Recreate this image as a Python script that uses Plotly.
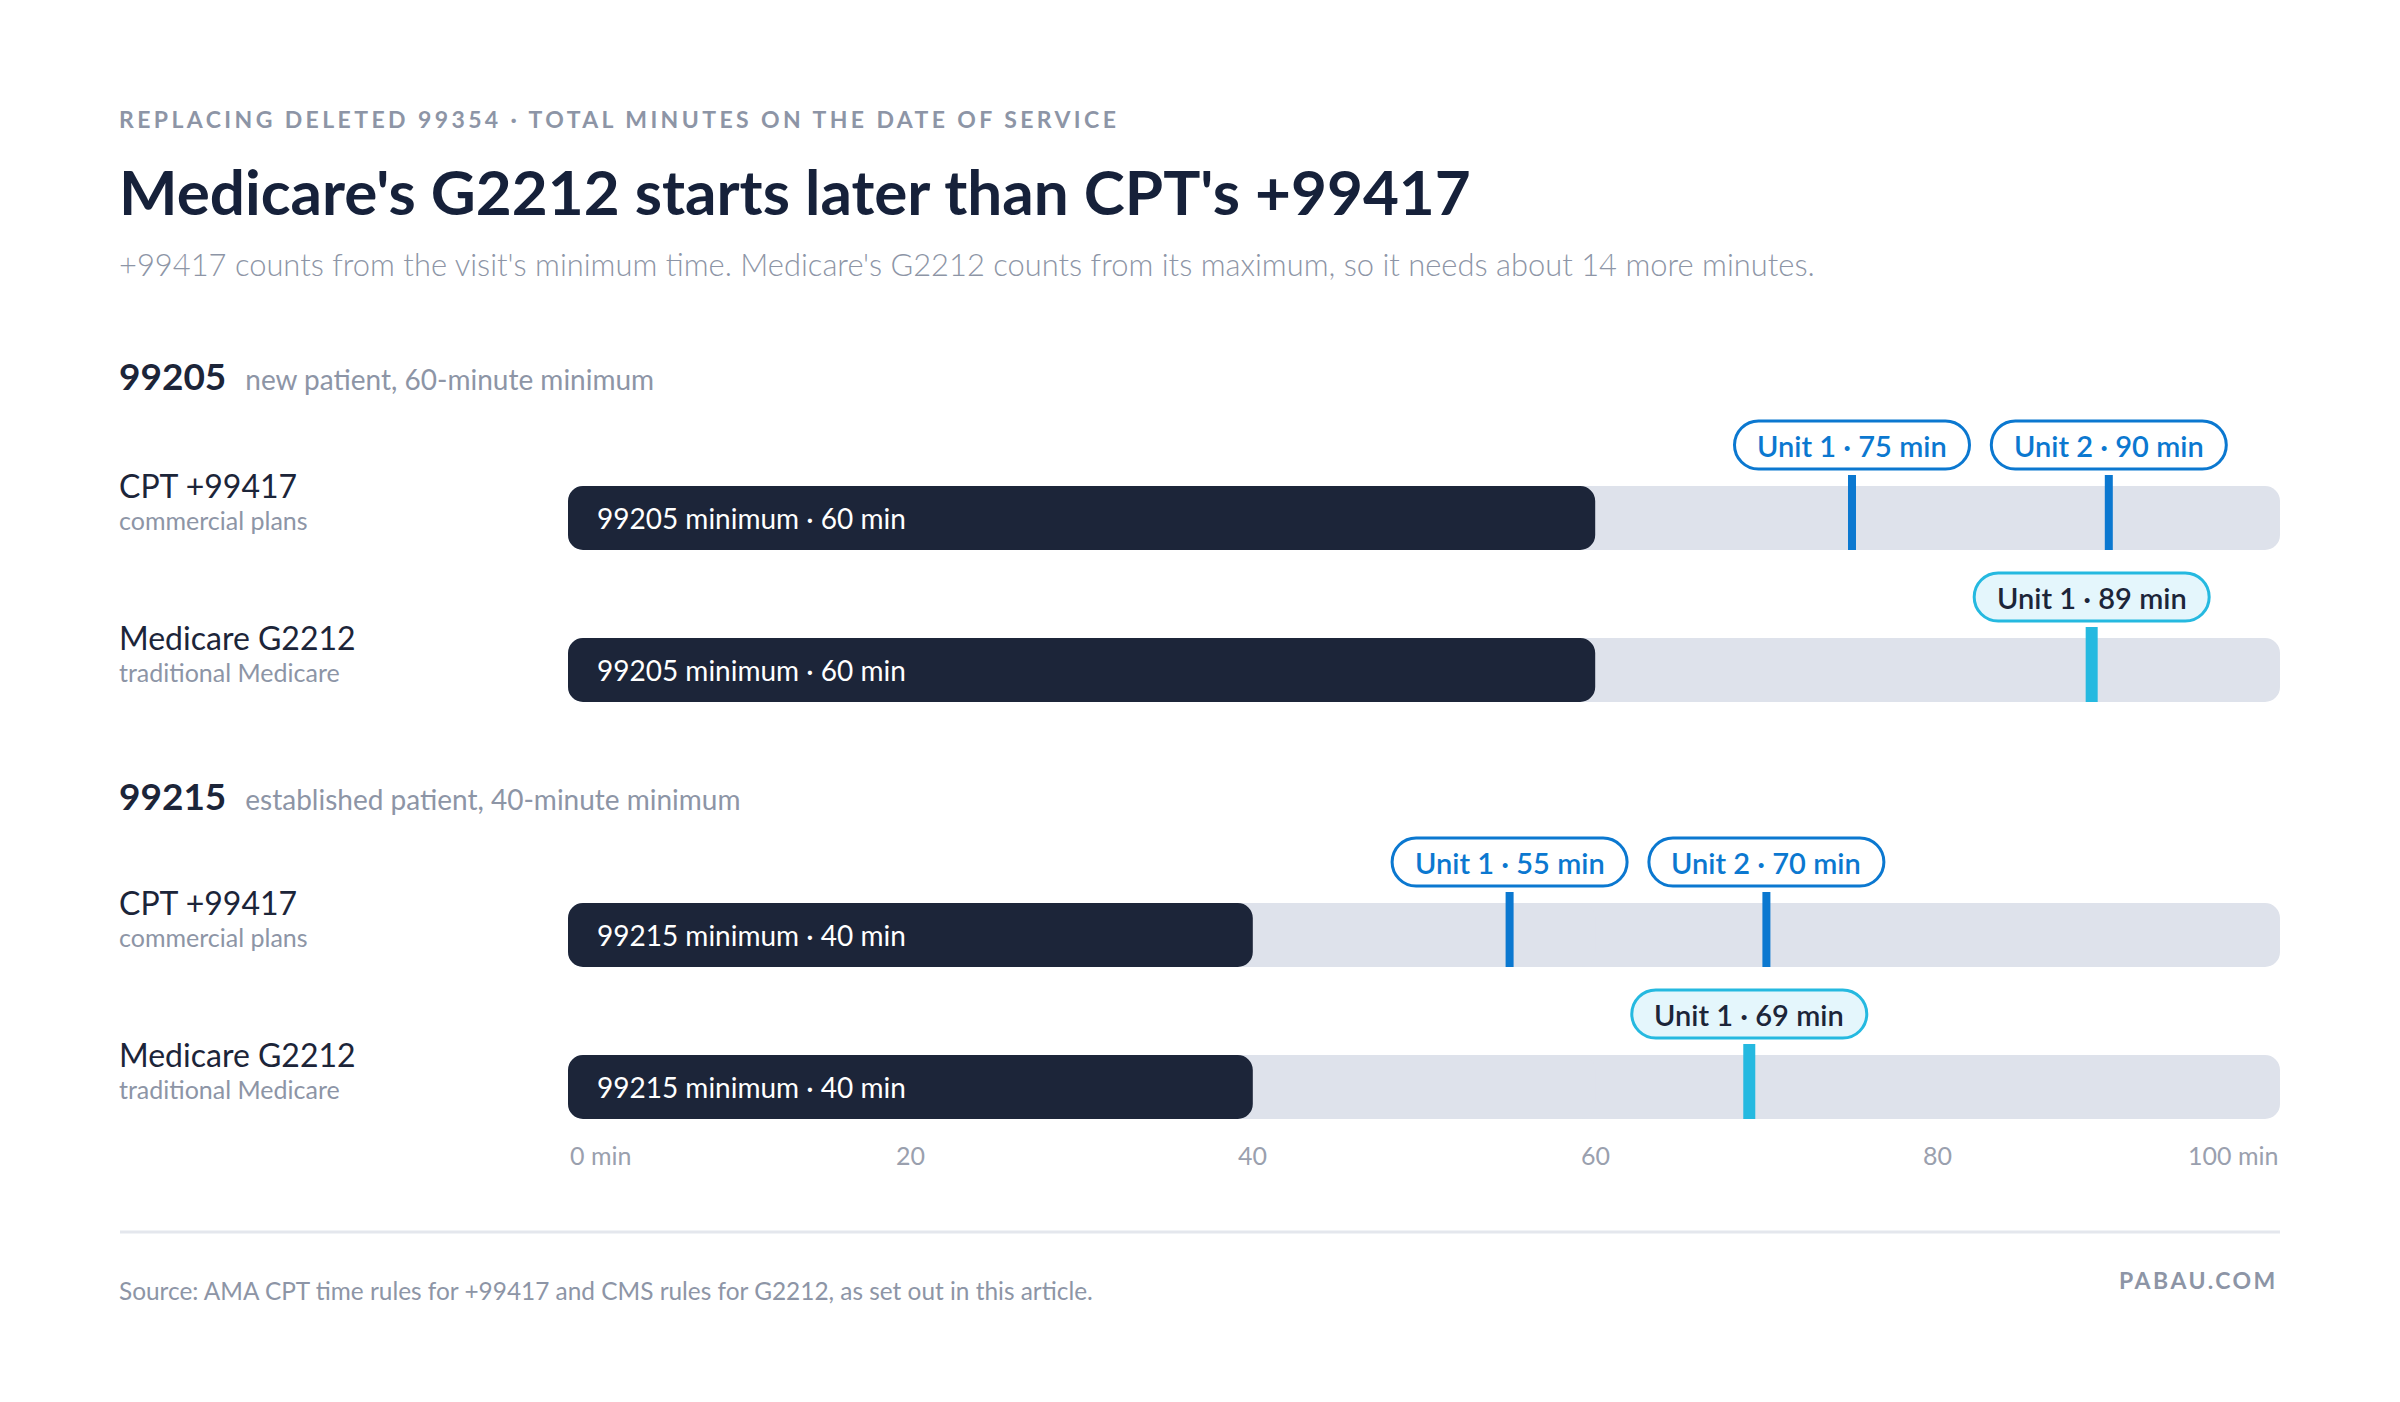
import plotly.graph_objects as go

# data
codes = ["99205", "99215"]
code_desc = ["new patient, 60-minute minimum", "established patient, 40-minute minimum"]
row_code = ["99205", "99205", "99215", "99215"]
row_name = ["CPT +99417", "Medicare G2212", "CPT +99417", "Medicare G2212"]
row_sub = ["commercial plans", "traditional Medicare", "commercial plans", "traditional Medicare"]
row_kind = ["cpt", "medicare", "cpt", "medicare"]
row_min = [60, 60, 40, 40]
unit_times = [[75, 90], [89], [55, 70], [69]]
axis_max = 100
tick_vals = [0, 20, 40, 60, 80, 100]
tick_text = ["0 min", "20", "40", "60", "80", "100 min"]

# layout, in page pixels from the top left (the page body has an 8px margin)
PAGE_W, PAGE_H = 2400, 1402
OFF = 8
W, H = PAGE_W - 2 * OFF, PAGE_H - 2 * OFF
LEFT, X0, X1 = 117, 568, 2280
ROW_Y = [518, 670, 935, 1087]
HEADER_Y = [375, 795]
BAR_H = 64

NAVY = "#1c2539"
TRACK = "#dee2eb"
BLUE = "#0b78d0"
CYAN = "#25b9e0"
GREY = "#8d95a6"
FONT = "Lato"

def px(x):
    return (x - OFF) / W

fig = go.Figure()

# track, drawn as two overlapping pieces so both ends are rounded
n = len(ROW_Y)
fig.add_trace(go.Bar(x=[axis_max * 0.6] * n, base=[axis_max * 0.4] * n, y=ROW_Y,
                     orientation="h", width=BAR_H, marker_color=TRACK,
                     marker_cornerradius=15, marker_line_width=0, hoverinfo="skip"))
fig.add_trace(go.Bar(x=[-axis_max * 0.6] * n, base=[axis_max * 0.6] * n, y=ROW_Y,
                     orientation="h", width=BAR_H, marker_color=TRACK,
                     marker_cornerradius=15, marker_line_width=0, hoverinfo="skip"))

# minimum segment, drawn from the minimum back to 0 so the left end is rounded
fig.add_trace(go.Bar(x=[-m for m in row_min], base=row_min, y=ROW_Y, orientation="h",
                     width=BAR_H, marker_color=NAVY, marker_cornerradius=15,
                     marker_line_width=0, hoverinfo="skip"))

for i, y in enumerate(ROW_Y):
    fig.add_annotation(x=0, y=y, xref="x", yref="y", xanchor="left", yanchor="middle",
                       xshift=27, showarrow=False,
                       text=f"{row_code[i]} minimum · {row_min[i]} min",
                       font=dict(family=FONT, size=28, color="white"))

# unit markers
for kind, color, lw in (("cpt", BLUE, 8), ("medicare", CYAN, 12)):
    xs, ys = [], []
    for i, y in enumerate(ROW_Y):
        if row_kind[i] != kind:
            continue
        for t in unit_times[i]:
            xs += [t, t, None]
            ys += [y - BAR_H / 2 - 11, y + BAR_H / 2, None]
    fig.add_trace(go.Scatter(x=xs, y=ys, mode="lines", line=dict(color=color, width=lw),
                             hoverinfo="skip"))

# pills
PW, PH = 235, 48
r = PH / 2
k = 0.5523 * r
c = PW / 2 - r
pill = (f"M {-c},{-r} L {c},{-r} C {c + k},{-r} {c + r},{-k} {c + r},0 "
        f"C {c + r},{k} {c + k},{r} {c},{r} L {-c},{r} "
        f"C {-c - k},{r} {-c - r},{k} {-c - r},0 C {-c - r},{-k} {-c - k},{-r} {-c},{-r} Z")
for i, y in enumerate(ROW_Y):
    cpt = row_kind[i] == "cpt"
    for j, t in enumerate(unit_times[i]):
        fig.add_shape(type="path", path=pill, xref="x", yref="y",
                      xsizemode="pixel", ysizemode="pixel", xanchor=t, yanchor=y - 73,
                      fillcolor="white" if cpt else "#e4f6fc",
                      line=dict(color=BLUE if cpt else CYAN, width=3))
        fig.add_annotation(x=t, y=y - 73, xref="x", yref="y", showarrow=False,
                           text=f"Unit {j + 1} · {t} min",
                           font=dict(family=FONT, size=29, weight=600,
                                     color=BLUE if cpt else NAVY))

# row labels
for i, y in enumerate(ROW_Y):
    fig.add_annotation(x=px(LEFT), y=y - 33, xref="paper", yref="y", xanchor="left",
                       showarrow=False, text=row_name[i],
                       font=dict(family=FONT, size=32, color=NAVY))
    fig.add_annotation(x=px(LEFT), y=y + 2, xref="paper", yref="y", xanchor="left",
                       showarrow=False, text=row_sub[i],
                       font=dict(family=FONT, size=25, color=GREY))

# section headers
for code, desc, y in zip(codes, code_desc, HEADER_Y):
    fig.add_annotation(x=px(LEFT), y=y, xref="paper", yref="y", xanchor="left",
                       showarrow=False,
                       text=f"<b>{code}</b>  <span style='font-size:28px;color:{GREY}'>{desc}</span>",
                       font=dict(family=FONT, size=37, color=NAVY))

# tick labels
for v, t in zip(tick_vals, tick_text):
    anchor = "left" if v == tick_vals[0] else ("right" if v == tick_vals[-1] else "center")
    fig.add_annotation(x=v, y=1155, xref="x", yref="y", xanchor=anchor, showarrow=False,
                       text=t, font=dict(family=FONT, size=25, color="#9aa0ae"))

# header texts
fig.add_annotation(x=px(LEFT), y=119, xref="paper", yref="y", xanchor="left", showarrow=False,
                   text="<span style='letter-spacing:3.4px'>REPLACING DELETED 99354 · "
                        "TOTAL MINUTES ON THE DATE OF SERVICE</span>",
                   font=dict(family=FONT, size=23, weight="bold", color=GREY))
fig.add_annotation(x=px(LEFT), y=191, xref="paper", yref="y", xanchor="left", showarrow=False,
                   text="Medicare's G2212 starts later than CPT's +99417",
                   font=dict(family=FONT, size=62, weight="bold", color="#16213a"))
fig.add_annotation(x=px(LEFT), y=264, xref="paper", yref="y", xanchor="left", showarrow=False,
                   text="+99417 counts from the visit's minimum time. Medicare's G2212 counts "
                        "from its maximum, so it needs about 14 more minutes.",
                   font=dict(family=FONT, size=30.9, weight=300, color=GREY))

# footer
fig.add_shape(type="line", xref="paper", yref="y", x0=px(120), x1=px(X1), y0=1232, y1=1232,
              line=dict(color="#e4e7ed", width=3))
fig.add_annotation(x=px(LEFT), y=1290, xref="paper", yref="y", xanchor="left", showarrow=False,
                   text="Source: AMA CPT time rules for +99417 and CMS rules for G2212, "
                        "as set out in this article.",
                   font=dict(family=FONT, size=24.4, color=GREY))
fig.add_annotation(x=px(X1), y=1280, xref="paper", yref="y", xanchor="right", showarrow=False,
                   text="<span style='letter-spacing:2.5px'>PABAU.COM</span>",
                   font=dict(family=FONT, size=23, weight="bold", color=GREY))

fig.update_layout(
    width=W, height=H, margin=dict(l=0, r=0, t=0, b=0),
    paper_bgcolor="white", plot_bgcolor="white",
    barmode="overlay", showlegend=False,
    xaxis=dict(domain=[px(X0), px(X1)], range=[0, axis_max], visible=False, fixedrange=True),
    yaxis=dict(domain=[0, 1], range=[OFF + H, OFF], visible=False, fixedrange=True),
)

fig.write_html("out.html", config={"displayModeBar": False})
